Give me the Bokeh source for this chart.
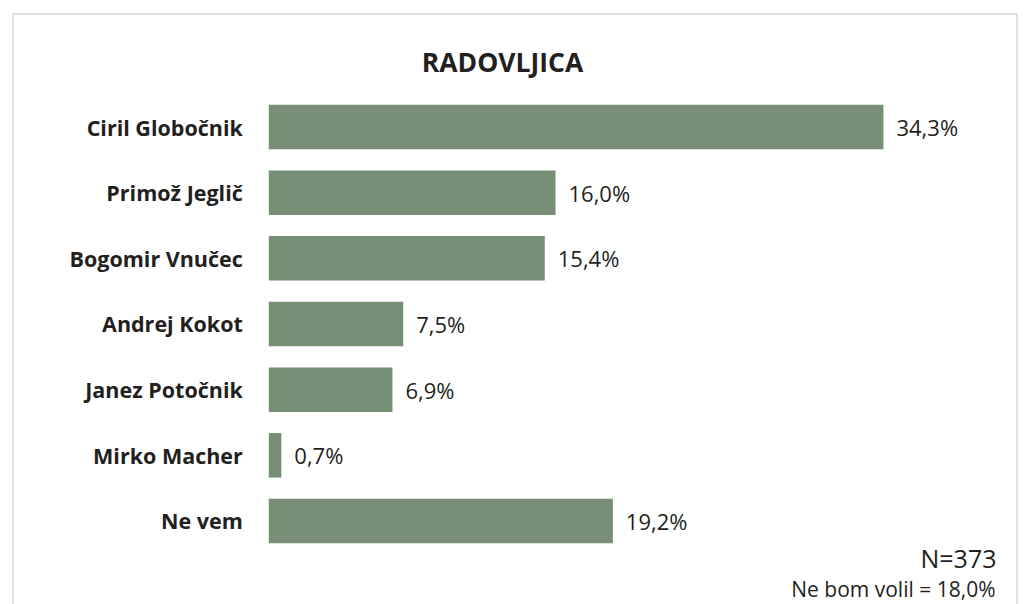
from bokeh.plotting import figure
from bokeh.models import ColumnDataSource, Range1d, BoxAnnotation, Label
from bokeh.core.properties import value
from bokeh.embed import file_html
from bokeh.resources import INLINE

# ---- data ----
title_text = "RADOVLJICA"
candidates = ["Ciril Globočnik", "Primož Jeglič", "Bogomir Vnučec", "Andrej Kokot",
              "Janez Potočnik", "Mirko Macher", "Ne vem"]
shares = [34.3, 16.0, 15.4, 7.5, 6.9, 0.7, 19.2]
value_labels = ["34,3%", "16,0%", "15,4%", "7,5%", "6,9%", "0,7%", "19,2%"]
sample_note = "N=373"
nonvoter_note = "Ne bom volil = 18,0%"

# ---- layout ----
W, H = 1024, 604
PX_PER_UNIT_X = 17.92
BAR_LEFT_PX = 268.3
ROW_PX = 65.66
FIRST_ROW_PX = 126.5

x0 = -BAR_LEFT_PX / PX_PER_UNIT_X
x1 = x0 + W / PX_PER_UNIT_X
ytop = -FIRST_ROW_PX / ROW_PX
ybot = ytop + H / ROW_PX

def xpx(px):
    return x0 + px / PX_PER_UNIT_X

def ypx(px):
    return ytop + px / ROW_PX

rows = list(range(len(candidates)))
src = ColumnDataSource(dict(name=candidates, share=shares, label=value_labels, row=rows))

p = figure(width=W, height=H, output_backend="svg", toolbar_location=None,
           x_range=Range1d(x0, x1), y_range=Range1d(ybot, ytop),
           x_axis_location=None, y_axis_location=None,
           min_border=0, min_border_left=0, min_border_right=0,
           min_border_top=0, min_border_bottom=0)
p.grid.visible = False
p.outline_line_color = None
p.background_fill_color = "white"
p.border_fill_color = "white"

BAR_COLOR = "#778f74"
TEXT_COLOR = "#231f20"
FONT = value("Open Sans")

p.hbar(y="row", left=0, right="share", height=0.678, source=src,
       fill_color=BAR_COLOR, line_color=None)

p.text(x=0, y="row", text="name", source=src, x_offset=-26,
       text_align="right", text_baseline="middle", text_font=FONT,
       text_font_style="bold", text_font_size="21.5px", text_color=TEXT_COLOR)

p.text(x="share", y="row", text="label", source=src, x_offset=13,
       text_align="left", text_baseline="middle", text_font=FONT,
       text_font_size="22px", text_color=TEXT_COLOR)

# frame (open at the bottom, runs off the page)
p.add_layout(BoxAnnotation(left=xpx(12.5), right=xpx(1016.5), top=ypx(13.5), bottom=ybot + 2,
                           fill_alpha=0, line_color="#7a7a7a", line_width=1.5))

p.add_layout(Label(x=xpx(502), y=ypx(61.5), text=title_text, text_align="center",
                   text_baseline="middle", text_font="Open Sans", text_font_style="bold",
                   text_font_size="26.5px", text_color=TEXT_COLOR))
p.add_layout(Label(x=xpx(996), y=ypx(557), text=sample_note, text_align="right",
                   text_baseline="middle", text_font="Open Sans",
                   text_font_size="25px", text_color=TEXT_COLOR))
p.add_layout(Label(x=xpx(995), y=ypx(588.5), text=nonvoter_note, text_align="right",
                   text_baseline="middle", text_font="Open Sans",
                   text_font_size="21px", text_color=TEXT_COLOR))

open("out.html", "w").write(file_html(p, INLINE))
